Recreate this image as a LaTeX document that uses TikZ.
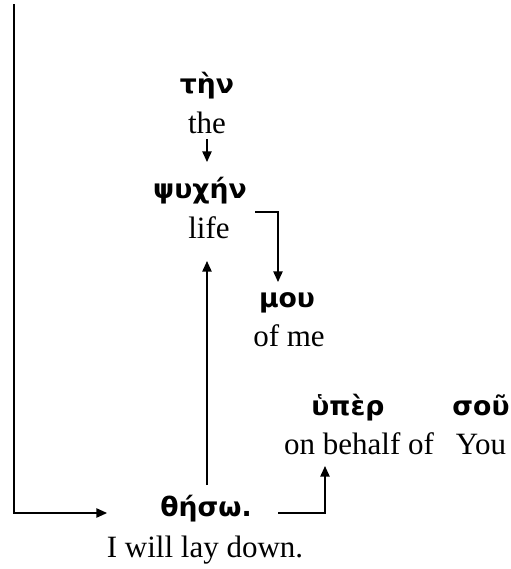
\documentclass[tikz,border=0pt]{standalone}
\usepackage{fontspec}
\setmainfont{Liberation Serif}
\newfontfamily\grk{DejaVu Sans}
\usetikzlibrary{arrows.meta,calc}
\begin{document}
\begin{tikzpicture}[x=0.75pt,y=-0.75pt,
  gr/.style={font=\grk\bfseries\fontsize{20}{22}\selectfont, inner sep=0pt, anchor=base},
  en/.style={font=\fontsize{23.25}{26}\selectfont, inner sep=0pt, anchor=base},
  conn/.style={line width=1.1pt},
  arr/.style={conn,-{Triangle[length=8pt,width=7pt]}}]
\useasboundingbox (0,0) rectangle (511,569);
\node[gr] (ten) at (207,93) {τὴν};
\node[en] (the) at (207,133) {the};
\node[gr] (psyche) at (200,198) {ψυχήν};
\node[en] (life) at (209,238) {life};
\node[gr] (mou) at (287,307) {μου};
\node[en] (ofme) at (289,346) {of me};
\node[gr] (hyper) at (348,415) {ὑπὲρ};
\node[en] (behalf) at (359,454) {on behalf of};
\node[gr] (sou) at (481,415) {σοῦ};
\node[en] (you) at (481,454) {You};
\node[gr] (theso) at (206,516) {θήσω.};
\node[en] (lay) at (205,557) {I will lay down.};
\coordinate (top) at (14,4);
\draw[arr] (top) |- ($(theso.base west)+(-53,-3)$);
\draw[arr] ($(the.base)+(0,6)$) -- ($(psyche.base)+(7,-36)$);
\draw[arr] ($(life.base)+(46,-26)$) -| ($(mou.base)+(-9,-25)$);
\draw[arr] ($(theso.base)+(1,-31)$) -- ($(life.base)+(-2,23)$);
\draw[arr] ($(theso.base)+(72,-3)$) -| ($(behalf.base)+(-34,12)$);
\end{tikzpicture}
\end{document}
